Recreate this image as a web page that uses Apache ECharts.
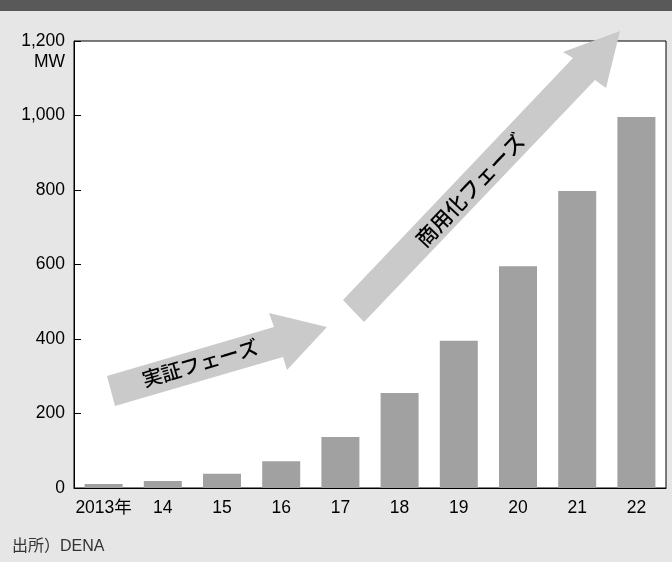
<!DOCTYPE html>
<html>
<head>
<meta charset="utf-8">
<script src="https://cdn.jsdelivr.net/npm/echarts@6/dist/echarts.min.js"></script>
<style>
  html, body {margin: 0; padding: 0; background: #e6e6e6;}
  #chart {width: 672px; height: 562px;}
</style>
</head>
<body>
<div id="chart"></div>
<script>
const years = ['2013年', '14', '15', '16', '17', '18', '19', '20', '21', '22'];
const capacity = [11, 19, 38, 72, 137, 255, 395, 595, 797, 996];
const yTicks = [0, 200, 400, 600, 800, 1000, 1200];

const font = '"Liberation Sans", "Noto Sans CJK JP", sans-serif';
const arrowColor = '#c9cac9';

const chart = echarts.init(document.getElementById('chart'));
chart.setOption({
    backgroundColor: '#e6e6e6',
    animation: false,
    textStyle: {fontFamily: font},
    grid: {
        left: 74, right: 6, top: 41, bottom: 74,
        show: true,
        backgroundColor: '#fff',
        borderColor: '#000',
        borderWidth: 1
    },
    xAxis: {
        type: 'category',
        data: years,
        axisLine: {lineStyle: {color: '#000', width: 1}},
        axisTick: {inside: true, length: 7, lineStyle: {color: '#000'}},
        axisLabel: {interval: 0, color: '#000', fontSize: 17.5, margin: 11, fontFamily: font}
    },
    yAxis: {
        type: 'value',
        min: yTicks[0],
        max: yTicks[yTicks.length - 1],
        interval: 200,
        splitLine: {show: false},
        axisLine: {show: true, lineStyle: {color: '#000', width: 1}},
        axisTick: {show: true, inside: true, length: 7, lineStyle: {color: '#000'}},
        axisLabel: {
            color: '#000', fontSize: 17.5, margin: 9, fontFamily: font,
            formatter: (v) => v.toLocaleString('en-US')
        }
    },
    series: [{
        type: 'bar',
        data: capacity,
        barWidth: 38,
        itemStyle: {color: '#a0a1a0'},
        z: 2
    }],
    graphic: [
        // header strip
        {type: 'rect', shape: {x: 0, y: 0, width: 672, height: 11}, style: {fill: '#595959'}, z: 10},
        // unit
        {type: 'text', x: 65, y: 62, style: {text: 'MW', fill: '#000', font: '17.5px ' + font, align: 'right', verticalAlign: 'middle'}},
        // 実証フェーズ arrow
        {
            type: 'polygon', z: 20,
            shape: {points: [[107, 376], [274, 327], [269, 313], [327, 327], [287, 370], [283, 357], [115, 406]]},
            style: {fill: arrowColor}
        },
        {
            type: 'text', z: 21, x: 200, y: 363, rotation: 16.5 * Math.PI / 180,
            style: {text: '実証フェーズ', fill: '#000', font: '500 20px "Noto Sans CJK JP"', align: 'center', verticalAlign: 'middle'}
        },
        // 商用化フェーズ arrow
        {
            type: 'polygon', z: 20,
            shape: {points: [[343, 300], [573, 58], [563, 52], [620, 31], [606, 88], [595, 80], [364, 322]]},
            style: {fill: arrowColor}
        },
        {
            type: 'text', z: 21, x: 470, y: 190, rotation: 46.5 * Math.PI / 180,
            style: {text: '商用化フェーズ', fill: '#000', font: '500 21px "Noto Sans CJK JP"', align: 'center', verticalAlign: 'middle'}
        },
        // source
        {type: 'text', x: 12, y: 547, style: {text: '出所）DENA', fill: '#333', font: '16px ' + font, verticalAlign: 'middle'}}
    ]
});
</script>
</body>
</html>
